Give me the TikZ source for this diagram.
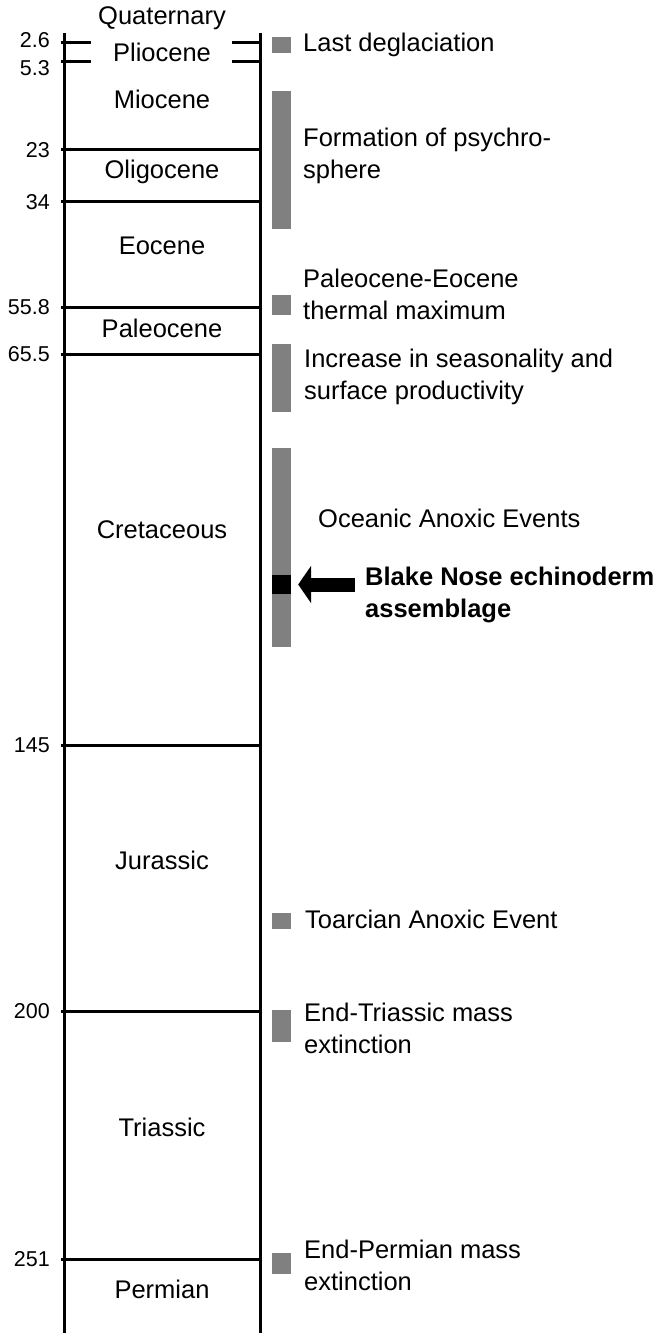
\documentclass[tikz,border=0pt]{standalone}
\usepackage{fontspec}
\setmainfont{Liberation Sans}
\usetikzlibrary{arrows.meta}
\definecolor{evgray}{RGB}{128,128,128}

\begin{document}
\begin{tikzpicture}[x=1pt,y=-1pt]
    \tikzstyle{every node}=[inner sep=0pt,font=\fontsize{25.5}{32}\selectfont];
    \tikzstyle{age}=[anchor=east,font=\fontsize{21.5}{26}\selectfont];
    \tikzstyle{period}=[anchor=center];
    \tikzstyle{event}=[anchor=west,align=left];
    \tikzstyle{bound}=[draw,line width=3pt];
    \tikzstyle{evbar}=[fill=evgray];

    \useasboundingbox (0,0) rectangle (663,1340);

    % time column
    \draw[bound] (64,33) -- (64,1333);
    \draw[bound] (260,33) -- (260,1333);
    \draw[bound] (61,43) -- (91,43);
    \draw[bound] (232,43) -- (260,43);
    \draw[bound] (61,62) -- (91,62);
    \draw[bound] (232,62) -- (260,62);
    \draw[bound] (61,150) -- (261,150);
    \draw[bound] (61,202) -- (261,202);
    \draw[bound] (61,307) -- (261,307);
    \draw[bound] (61,354) -- (261,354);
    \draw[bound] (61,745) -- (261,745);
    \draw[bound] (61,1011) -- (261,1011);
    \draw[bound] (61,1259) -- (261,1259);

    \node at (50, 40)   (a1) [age] {2.6};
    \node at (50, 68)   (a2) [age] {5.3};
    \node at (50, 150)  (a3) [age] {23};
    \node at (50, 202)  (a4) [age] {34};
    \node at (50, 307)  (a5) [age] {55.8};
    \node at (50, 354)  (a6) [age] {65.5};
    \node at (50, 745)  (a7) [age] {145};
    \node at (50, 1011) (a8) [age] {200};
    \node at (50, 1259) (a9) [age] {251};

    \node at (162, 18)   (quat) [period] {Quaternary};
    \node at (162, 52)   (plio) [period] {Pliocene};
    \node at (162, 99)   (mio)  [period] {Miocene};
    \node at (162, 172)  (oli)  [period] {Oligocene};
    \node at (162, 246)  (eoc)  [period] {Eocene};
    \node at (162, 328)  (pal)  [period] {Paleocene};
    \node at (162, 530)  (cre)  [period] {Cretaceous};
    \node at (162, 860)  (jur)  [period] {Jurassic};
    \node at (162, 1127) (tri)  [period] {Triassic};
    \node at (162, 1289) (per)  [period] {Permian};

    % events
    \fill[evbar] (272,37) rectangle (291,53);
    \fill[evbar] (272,91) rectangle (291,229);
    \fill[evbar] (272,295) rectangle (291,315);
    \fill[evbar] (272,344) rectangle (291,412);
    \fill[evbar] (272,448) rectangle (291,647);
    \fill[evbar] (272,913) rectangle (291,929);
    \fill[evbar] (272,1010) rectangle (291,1042);
    \fill[evbar] (272,1253) rectangle (291,1274);
    \node at (281.5, 584.5) (bnBar) [fill=black,minimum width=19pt,minimum height=19pt] {};

    \node at (303, 45)   (e1) [event] {Last deglaciation};
    \node at (303, 156)  (e2) [event] {Formation of psychro-\\sphere};
    \node at (303, 294)  (e3) [event] {Paleocene-Eocene\\thermal maximum};
    \node at (304, 377)  (e4) [event] {Increase in seasonality and\\surface productivity};
    \node at (318, 518)  (e5) [event] {Oceanic Anoxic Events};
    \node at (365, 595)  (bn) [event,font=\fontsize{25.5}{32}\selectfont\bfseries] {Blake Nose echinoderm\\assemblage};
    \node at (305, 919)  (e6) [event] {Toarcian Anoxic Event};
    \node at (304, 1028) (e7) [event] {End-Triassic mass\\extinction};
    \node at (304, 1265) (e8) [event] {End-Permian mass\\extinction};

    \draw[line width=14pt,-{Triangle[length=13pt,width=37pt]},shorten <=10pt,shorten >=7pt]
        (bnBar.east -| bn.west) -- (bnBar.east);
\end{tikzpicture}
\end{document}
